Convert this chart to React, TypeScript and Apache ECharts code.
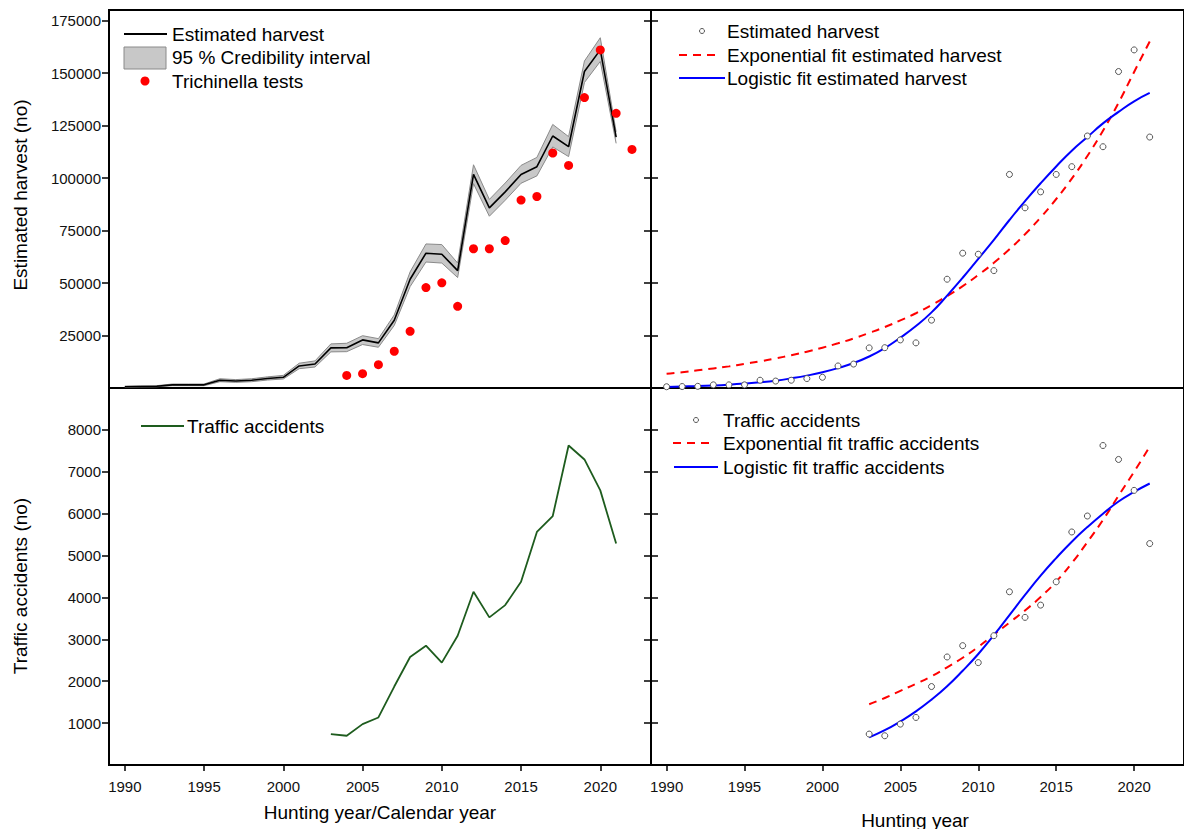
import React, { useEffect, useRef } from "react";
import * as echarts from "echarts";

// ---------- data ----------
const harvestYears = [1990, 1991, 1992, 1993, 1994, 1995, 1996, 1997, 1998, 1999, 2000, 2001, 2002, 2003, 2004, 2005, 2006, 2007, 2008, 2009, 2010, 2011, 2012, 2013, 2014, 2015, 2016, 2017, 2018, 2019, 2020, 2021];
const estimatedHarvest = [600, 700, 800, 1500, 1500, 1500, 3700, 3300, 3700, 4500, 5100, 10500, 11400, 19100, 19200, 22900, 21500, 32300, 51800, 64200, 63700, 55900, 101700, 85800, 93400, 101700, 105400, 120000, 114900, 150700, 161000, 119500];
const ciLower = [400, 500, 600, 1100, 1100, 1100, 3000, 2700, 3000, 3800, 4300, 9200, 10000, 17200, 17300, 20700, 19400, 29800, 48300, 60000, 59500, 52600, 97300, 81800, 89400, 97500, 101000, 114800, 110200, 145500, 155500, 116500];
const ciUpper = [900, 1000, 1100, 1900, 1900, 1900, 4400, 4000, 4400, 5300, 6000, 11800, 12900, 21000, 21300, 24900, 23500, 34800, 55300, 68600, 68300, 59500, 106300, 89800, 97600, 106000, 109800, 125500, 119700, 155700, 166800, 122000];

const trichinellaYears = [2004, 2005, 2006, 2007, 2008, 2009, 2010, 2011, 2012, 2013, 2014, 2015, 2016, 2017, 2018, 2019, 2020, 2021, 2022];
const trichinellaTests = [6000, 6800, 11100, 17500, 27000, 47800, 50100, 38900, 66300, 66300, 70200, 89500, 91200, 111900, 106000, 138300, 161000, 130800, 113600];

const expFitHarvest = [6800, 7500, 8400, 9300, 10300, 11500, 12700, 14100, 15600, 17300, 19200, 21300, 23600, 26200, 29000, 32200, 35600, 39500, 43800, 48500, 53800, 59600, 66100, 73200, 81200, 90000, 99700, 110500, 122500, 135800, 150500, 165000];
const logFitHarvest = [500, 700, 900, 1200, 1600, 2100, 2700, 3500, 4600, 5900, 7500, 9500, 11900, 15000, 19000, 24000, 29500, 36000, 44000, 52500, 61500, 70500, 80000, 89000, 97500, 105500, 113000, 119500, 126000, 131500, 136500, 140500];

const trafficYears = [2003, 2004, 2005, 2006, 2007, 2008, 2009, 2010, 2011, 2012, 2013, 2014, 2015, 2016, 2017, 2018, 2019, 2020, 2021];
const trafficAccidents = [738, 698, 976, 1135, 1873, 2579, 2849, 2444, 3087, 4135, 3524, 3817, 4373, 5563, 5944, 7627, 7294, 6556, 5286];
const expFitTraffic = [1450, 1600, 1770, 1940, 2120, 2330, 2560, 2820, 3110, 3400, 3690, 4010, 4380, 4820, 5320, 5850, 6430, 7000, 7600];
const logFitTraffic = [660, 830, 1040, 1280, 1560, 1880, 2250, 2650, 3100, 3580, 4060, 4520, 4940, 5330, 5680, 6000, 6290, 6520, 6720];

const yearTicks = [1990, 1995, 2000, 2005, 2010, 2015, 2020];
const harvestTicks = [25000, 50000, 75000, 100000, 125000, 150000, 175000];
const trafficTicks = [1000, 2000, 3000, 4000, 5000, 6000, 7000, 8000];

// ---------- helpers ----------
const pair = (xs: number[], ys: number[]) => xs.map((x, i) => [x, ys[i]]);
const FONT = '"Liberation Sans", Arial, sans-serif';

const PANEL_W = 542;
const L1 = 109, L2 = 651, T1 = 10, T2 = 388, H1 = 378, H2 = 377;

function xAxisCfg(gridIndex: number, labels: boolean) {
  return {
    type: "value",
    gridIndex,
    min: 1989,
    max: 2023.2,
    position: "bottom",
    axisLine: { show: true, lineStyle: { color: "#000", width: 2 } },
    axisTick: { show: labels, customValues: yearTicks, length: 6, lineStyle: { color: "#000", width: 1.5 } },
    axisLabel: {
      show: labels,
      customValues: yearTicks,
      margin: 14,
      fontSize: 15,
      fontFamily: FONT,
      color: "#111",
      formatter: (v: number) => String(v),
    },
    splitLine: { show: false },
  };
}

function yAxisCfg(gridIndex: number, max: number, ticks: number[], position: string, labels: boolean) {
  return {
    type: "value",
    gridIndex,
    min: 0,
    max,
    position,
    axisLine: { show: true, lineStyle: { color: "#000", width: 2 } },
    axisTick: { show: true, customValues: ticks, length: 7, lineStyle: { color: "#000", width: 1.5 } },
    axisLabel: {
      show: labels,
      customValues: ticks,
      margin: 8,
      fontSize: 15,
      fontFamily: FONT,
      color: "#111",
      formatter: (v: number) => String(v),
    },
    splitLine: { show: false },
  };
}

const LEG_FS = 19;

function legendText(x: number, y: number, text: string) {
  return {
    type: "text",
    x,
    y,
    style: { text, fontSize: LEG_FS, fontFamily: FONT, fill: "#000", align: "left", verticalAlign: "middle" },
  };
}

export default function App() {
  const ref = useRef<HTMLDivElement>(null);

  useEffect(() => {
    if (!ref.current) return;
    const chart = echarts.init(ref.current, undefined, { renderer: "svg" });

    const gridBase = { show: true, borderColor: "#000", borderWidth: 2, containLabel: false };
    const circleStyle = { color: "#fff", borderColor: "#555", borderWidth: 1, opacity: 1 };

    const option: any = {
      animation: false,
      backgroundColor: "#fff",
      grid: [
        { ...gridBase, left: L1, top: T1, width: PANEL_W, height: H1 },
        { ...gridBase, left: L2, top: T1, width: PANEL_W, height: H1 },
        { ...gridBase, left: L1, top: T2, width: PANEL_W, height: H2 },
        { ...gridBase, left: L2, top: T2, width: PANEL_W, height: H2 },
      ],
      xAxis: [xAxisCfg(0, false), xAxisCfg(1, false), xAxisCfg(2, true), xAxisCfg(3, true)],
      yAxis: [
        yAxisCfg(0, 180000, harvestTicks, "left", true),
        yAxisCfg(0, 180000, harvestTicks, "right", false),
        yAxisCfg(1, 180000, harvestTicks, "left", false),
        yAxisCfg(2, 9000, trafficTicks, "left", true),
        yAxisCfg(2, 9000, trafficTicks, "right", false),
        yAxisCfg(3, 9000, trafficTicks, "left", false),
      ],
      series: [
        // CI band drawn as one polygon from lower/upper arrays
        {
          type: "custom",
          xAxisIndex: 0,
          yAxisIndex: 0,
          data: pair(harvestYears, ciUpper),
          encode: { x: 0, y: 1 },
          z: 1,
          renderItem: (params: any, api: any) => {
            if (params.dataIndex !== 0) return null;
            const up = harvestYears.map((x, i) => api.coord([x, ciUpper[i]]));
            const lo = harvestYears.map((x, i) => api.coord([x, ciLower[i]]));
            return {
              type: "group",
              children: [
                {
                  type: "polygon",
                  shape: { points: up.concat(lo.slice().reverse()) },
                  style: { fill: "#c8c8c8", stroke: "none" },
                },
                {
                  type: "polyline",
                  shape: { points: up },
                  style: { stroke: "#8a8a8a", lineWidth: 1, fill: "none" },
                },
                {
                  type: "polyline",
                  shape: { points: lo },
                  style: { stroke: "#8a8a8a", lineWidth: 1, fill: "none" },
                },
              ],
            };
          },
        },
        {
          type: "line",
          xAxisIndex: 0,
          yAxisIndex: 0,
          data: pair(harvestYears, estimatedHarvest),
          symbol: "none",
          lineStyle: { color: "#000", width: 1.6 },
          z: 3,
        },
        {
          type: "scatter",
          xAxisIndex: 0,
          yAxisIndex: 0,
          data: pair(trichinellaYears, trichinellaTests),
          symbol: "circle",
          symbolSize: 9,
          itemStyle: { color: "#ff0000", opacity: 1 },
          z: 4,
        },
        // top right
        {
          type: "line",
          xAxisIndex: 1,
          yAxisIndex: 2,
          data: pair(harvestYears, expFitHarvest),
          symbol: "none",
          smooth: true,
          lineStyle: { color: "#ff0000", width: 2, type: [8, 6] },
          z: 3,
        },
        {
          type: "line",
          xAxisIndex: 1,
          yAxisIndex: 2,
          data: pair(harvestYears, logFitHarvest),
          symbol: "none",
          smooth: true,
          lineStyle: { color: "#0000ff", width: 2 },
          z: 3,
        },
        {
          type: "scatter",
          xAxisIndex: 1,
          yAxisIndex: 2,
          data: pair(harvestYears, estimatedHarvest),
          symbol: "circle",
          symbolSize: 6,
          itemStyle: circleStyle,
          z: 4,
        },
        // bottom left
        {
          type: "line",
          xAxisIndex: 2,
          yAxisIndex: 3,
          data: pair(trafficYears, trafficAccidents),
          symbol: "none",
          lineStyle: { color: "#1e5c1e", width: 1.8 },
        },
        // bottom right
        {
          type: "line",
          xAxisIndex: 3,
          yAxisIndex: 5,
          data: pair(trafficYears, expFitTraffic),
          symbol: "none",
          smooth: true,
          lineStyle: { color: "#ff0000", width: 2, type: [8, 6] },
          z: 3,
        },
        {
          type: "line",
          xAxisIndex: 3,
          yAxisIndex: 5,
          data: pair(trafficYears, logFitTraffic),
          symbol: "none",
          smooth: true,
          lineStyle: { color: "#0000ff", width: 2 },
          z: 3,
        },
        {
          type: "scatter",
          xAxisIndex: 3,
          yAxisIndex: 5,
          data: pair(trafficYears, trafficAccidents),
          symbol: "circle",
          symbolSize: 6,
          itemStyle: circleStyle,
          z: 4,
        },
      ],
      graphic: [
        // axis titles
        {
          type: "text",
          x: 20,
          y: 195,
          rotation: Math.PI / 2,
          style: { text: "Estimated harvest (no)", fontSize: 19, fontFamily: FONT, fill: "#000", align: "center", verticalAlign: "middle" },
        },
        {
          type: "text",
          x: 20,
          y: 586,
          rotation: Math.PI / 2,
          style: { text: "Traffic accidents (no)", fontSize: 19, fontFamily: FONT, fill: "#000", align: "center", verticalAlign: "middle" },
        },
        {
          type: "text",
          x: 380,
          y: 812,
          style: { text: "Hunting year/Calendar year", fontSize: 19, fontFamily: FONT, fill: "#000", align: "center", verticalAlign: "middle" },
        },
        {
          type: "text",
          x: 915,
          y: 820,
          style: { text: "Hunting year", fontSize: 19, fontFamily: FONT, fill: "#000", align: "center", verticalAlign: "middle" },
        },
        // top-left legend
        { type: "line", shape: { x1: 124, y1: 34, x2: 167, y2: 34 }, style: { stroke: "#000", lineWidth: 2 } },
        legendText(172, 34, "Estimated harvest"),
        { type: "rect", shape: { x: 124, y: 47, width: 42, height: 22 }, style: { fill: "#c8c8c8", stroke: "#8a8a8a", lineWidth: 1 } },
        legendText(172, 57, "95 % Credibility interval"),
        { type: "circle", shape: { cx: 145, cy: 81, r: 4.5 }, style: { fill: "#ff0000" } },
        legendText(172, 81, "Trichinella tests"),
        // top-right legend
        { type: "circle", shape: { cx: 702, cy: 31, r: 2.5 }, style: { fill: "#fff", stroke: "#555", lineWidth: 1 } },
        legendText(727, 31, "Estimated harvest"),
        { type: "line", shape: { x1: 679, y1: 55, x2: 720, y2: 55 }, style: { stroke: "#ff0000", lineWidth: 2, lineDash: [8, 6] } },
        legendText(727, 55, "Exponential fit estimated harvest"),
        { type: "line", shape: { x1: 679, y1: 78, x2: 725, y2: 78 }, style: { stroke: "#0000ff", lineWidth: 2 } },
        legendText(727, 78, "Logistic fit estimated harvest"),
        // bottom-left legend
        { type: "line", shape: { x1: 141, y1: 426, x2: 184, y2: 426 }, style: { stroke: "#1e5c1e", lineWidth: 2 } },
        legendText(187, 426, "Traffic accidents"),
        // bottom-right legend
        { type: "circle", shape: { cx: 696, cy: 420, r: 2.5 }, style: { fill: "#fff", stroke: "#555", lineWidth: 1 } },
        legendText(723, 420, "Traffic accidents"),
        { type: "line", shape: { x1: 673, y1: 443, x2: 713, y2: 443 }, style: { stroke: "#ff0000", lineWidth: 2, lineDash: [8, 6] } },
        legendText(723, 443, "Exponential fit traffic accidents"),
        { type: "line", shape: { x1: 674, y1: 467, x2: 718, y2: 467 }, style: { stroke: "#0000ff", lineWidth: 2 } },
        legendText(723, 467, "Logistic fit traffic accidents"),
      ],
    };

    chart.setOption(option);
    return () => chart.dispose();
  }, []);

  return (
    <div
      ref={ref}
      style={{ position: "absolute", left: 0, top: 0, width: 1184, height: 829, background: "#fff" }}
    />
  );
}
